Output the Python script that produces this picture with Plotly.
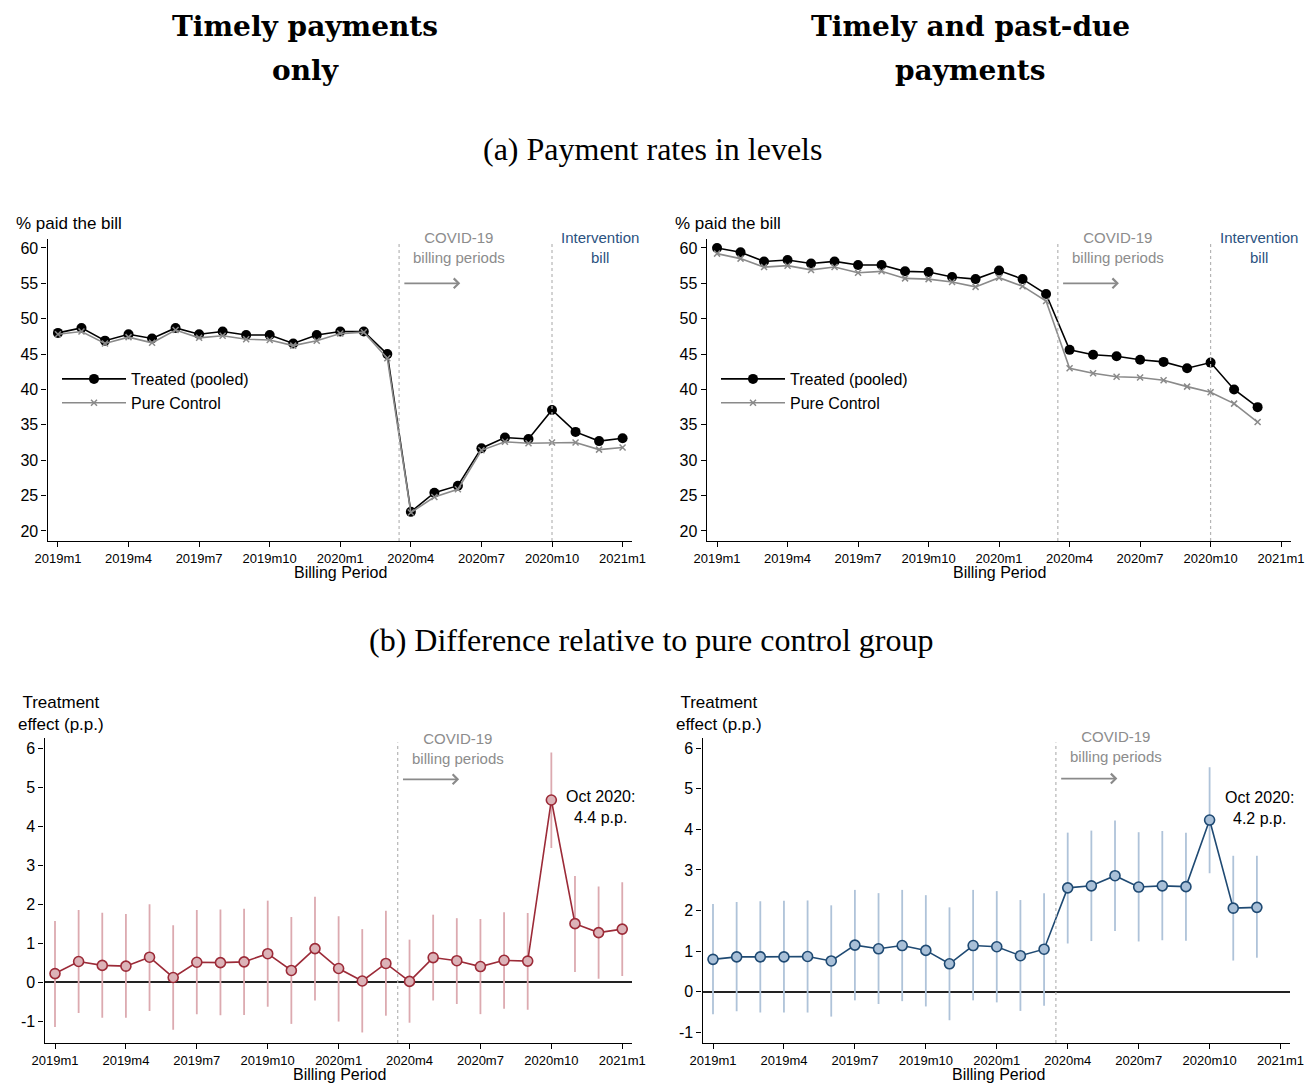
import plotly.graph_objects as go

W, H = 1315, 1084
OFF = 8                      # page body margin of the rendered HTML
FW, FH = W - OFF, H - OFF    # figure size so that it fills the window exactly

periods = ["2019m1", "2019m2", "2019m3", "2019m4", "2019m5", "2019m6", "2019m7", "2019m8",
           "2019m9", "2019m10", "2019m11", "2019m12", "2020m1", "2020m2", "2020m3", "2020m4",
           "2020m5", "2020m6", "2020m7", "2020m8", "2020m9", "2020m10", "2020m11", "2020m12",
           "2021m1"]
tick_labels = ["2019m1", "2019m4", "2019m7", "2019m10", "2020m1", "2020m4", "2020m7",
               "2020m10", "2021m1"]

# (a) levels, timely payments only
timely_treated = [48.0, 48.7, 46.9, 47.8, 47.2, 48.7, 47.8, 48.2, 47.7, 47.7, 46.5, 47.7, 48.2,
                  48.2, 45.0, 22.7, 25.4, 26.4, 31.7, 33.2, 33.0, 37.1, 34.0, 32.7, 33.1]
timely_control = [47.8, 48.2, 46.5, 47.4, 46.6, 48.4, 47.3, 47.6, 47.1, 47.0, 46.2, 46.9, 47.9,
                  48.1, 44.4, 22.6, 24.8, 25.9, 31.4, 32.6, 32.4, 32.5, 32.5, 31.5, 31.8]
# (a) levels, timely and past-due payments
all_treated = [60.0, 59.4, 58.1, 58.3, 57.8, 58.1, 57.6, 57.6, 56.7, 56.6, 55.9, 55.6, 56.8,
               55.6, 53.5, 45.6, 44.9, 44.7, 44.2, 43.9, 43.0, 43.8, 40.0, 37.5]
all_control = [59.2, 58.5, 57.3, 57.5, 56.9, 57.3, 56.5, 56.7, 55.7, 55.6, 55.2, 54.5, 55.8,
               54.6, 52.5, 43.0, 42.3, 41.8, 41.7, 41.3, 40.4, 39.6, 38.0, 35.4]

# (b) treatment effects with confidence intervals
timely_effect = [0.22, 0.53, 0.43, 0.41, 0.64, 0.12, 0.51, 0.50, 0.52, 0.73, 0.30, 0.86, 0.35,
                 0.03, 0.48, 0.02, 0.63, 0.55, 0.40, 0.56, 0.54, 4.67, 1.50, 1.27, 1.36]
timely_ci_hi = [1.57, 1.85, 1.78, 1.75, 2.00, 1.46, 1.85, 1.86, 1.88, 2.09, 1.67, 2.19, 1.69,
                1.36, 1.83, 1.09, 1.73, 1.64, 1.62, 1.79, 1.77, 5.89, 2.72, 2.45, 2.56]
timely_ci_lo = [-1.15, -0.79, -0.91, -0.91, -0.74, -1.22, -0.82, -0.85, -0.84, -0.63, -1.07,
                -0.47, -1.01, -1.29, -0.86, -1.04, -0.47, -0.56, -0.82, -0.68, -0.71, 3.44,
                0.26, 0.09, 0.16]
all_effect = [0.80, 0.86, 0.86, 0.86, 0.87, 0.76, 1.15, 1.06, 1.14, 1.02, 0.69, 1.14, 1.11,
              0.89, 1.05, 2.56, 2.61, 2.86, 2.58, 2.61, 2.59, 4.23, 2.06, 2.08]
all_ci_hi = [2.16, 2.21, 2.23, 2.24, 2.25, 2.13, 2.51, 2.43, 2.51, 2.38, 2.08, 2.51, 2.48,
             2.26, 2.43, 3.92, 3.97, 4.22, 3.93, 3.96, 3.92, 5.53, 3.35, 3.35]
all_ci_lo = [-0.55, -0.48, -0.51, -0.51, -0.51, -0.61, -0.21, -0.30, -0.23, -0.36, -0.70,
             -0.21, -0.26, -0.47, -0.34, 1.19, 1.25, 1.50, 1.24, 1.27, 1.26, 2.92, 0.77, 0.84]

SANS = "Liberation Sans, Arial, sans-serif"
GRAY_TXT = "#8c8c8c"
BLUE_TXT = "#2b527f"
RED_LINE = "#9c2b38"
RED_FILL = "#dcb3b8"
RED_CI = "#dcaab0"
BLUE_LINE = "#1f4a73"
BLUE_FILL = "#a9c0d8"
BLUE_CI = "#afc3d9"

tick_vals = [periods.index(t) for t in tick_labels]
covid_x = periods.index("2020m3") + 0.5
interv_x = periods.index("2020m10")
oct_x = periods.index("2020m10")


def px(x):
    return (x - OFF) / FW


def py(y):
    return 1 - (y - OFF) / FH


fig = go.Figure()

# ---- top panels: levels
for k, (tr, ct, leg) in enumerate([(timely_treated, timely_control, "legend"),
                                    (all_treated, all_control, "legend2")]):
    xa = "x" if k == 0 else "x2"
    ya = "y" if k == 0 else "y2"
    fig.add_trace(go.Scatter(x=list(range(len(tr))), y=tr, mode="lines+markers",
                             name="Treated (pooled)", legend=leg, xaxis=xa, yaxis=ya,
                             line=dict(color="black", width=1.6),
                             marker=dict(symbol="circle", size=10, color="black")))
    fig.add_trace(go.Scatter(x=list(range(len(ct))), y=ct, mode="lines+markers",
                             name="Pure Control", legend=leg, xaxis=xa, yaxis=ya,
                             line=dict(color="#8a8a8a", width=1.6),
                             marker=dict(symbol="x-thin", size=6,
                                         line=dict(color="#8a8a8a", width=1.5))))

# ---- bottom panels: effects
for k, (eff, lo, hi, lc, fc, cc) in enumerate([
        (timely_effect, timely_ci_lo, timely_ci_hi, RED_LINE, RED_FILL, RED_CI),
        (all_effect, all_ci_lo, all_ci_hi, BLUE_LINE, BLUE_FILL, BLUE_CI)]):
    xa = "x3" if k == 0 else "x4"
    ya = "y3" if k == 0 else "y4"
    xs = list(range(len(eff)))
    fig.add_trace(go.Scatter(
        x=xs, y=eff, mode="markers", xaxis=xa, yaxis=ya, showlegend=False,
        marker=dict(size=1, opacity=0),
        error_y=dict(type="data", symmetric=False,
                     array=[h - e for h, e in zip(hi, eff)],
                     arrayminus=[e - l for e, l in zip(eff, lo)],
                     color=cc, thickness=1.8, width=0)))
    fig.add_trace(go.Scatter(
        x=xs, y=eff, mode="lines+markers", xaxis=xa, yaxis=ya, showlegend=False,
        line=dict(color=lc, width=1.6),
        marker=dict(symbol="circle", size=10, color=fc, line=dict(color=lc, width=1.6))))

# ---- axes (positions in reference pixels)
x_dom = {"x": (47.6, 632), "x2": (706.7, 1290.5), "x3": (44.6, 631.7), "x4": (702.6, 1290)}
y_dom = {"y": (239, 541), "y2": (239, 541), "y3": (738, 1043), "y4": (738, 1043)}
y_rng = {"y": (18.58, 61.27), "y2": (18.58, 61.27), "y3": (-1.56, 6.26), "y4": (-1.26, 6.25)}
y_ticks = {"y": list(range(20, 61, 5)), "y2": list(range(20, 61, 5)),
           "y3": list(range(-1, 7)), "y4": list(range(-1, 7))}

layout_axes = {}
for i, (xn, yn) in enumerate([("x", "y"), ("x2", "y2"), ("x3", "y3"), ("x4", "y4")]):
    xkey = "xaxis" if xn == "x" else "xaxis" + xn[1:]
    ykey = "yaxis" if yn == "y" else "yaxis" + yn[1:]
    x0, x1 = x_dom[xn]
    yt, yb = y_dom[yn]
    layout_axes[xkey] = dict(
        domain=[px(x0), px(x1)], anchor=yn, range=[-0.44, 24.4], automargin=False,
        tickmode="array", tickvals=tick_vals, ticktext=tick_labels,
        showline=True, linecolor="black", linewidth=1.3, mirror=False,
        ticks="outside", ticklen=5, tickwidth=1.2, tickcolor="black",
        showgrid=False, zeroline=False,
        tickfont=dict(family=SANS, size=13, color="black"))
    layout_axes[ykey] = dict(
        domain=[py(yb), py(yt)], anchor=xn, range=list(y_rng[yn]), automargin=False,
        tickmode="array", tickvals=y_ticks[yn],
        ticktext=[str(v) for v in y_ticks[yn]],
        showline=True, linecolor="black", linewidth=1.3,
        ticks="outside", ticklen=5, tickwidth=1.2, tickcolor="black",
        showgrid=False,
        zeroline=(i >= 2), zerolinecolor="#222222", zerolinewidth=1.6,
        tickfont=dict(family=SANS, size=16, color="black"))

shapes = []
annotations = []

# vertical dotted reference lines
for xn, yn in [("x", "y"), ("x2", "y2"), ("x3", "y3"), ("x4", "y4")]:
    shapes.append(dict(type="line", xref=xn, yref=yn + " domain", x0=covid_x, x1=covid_x,
                       y0=0, y1=0.985, line=dict(color="#b5b5b5", width=1.2, dash="dot")))
for xn, yn in [("x", "y"), ("x2", "y2")]:
    shapes.append(dict(type="line", xref=xn, yref=yn + " domain", x0=interv_x, x1=interv_x,
                       y0=0, y1=0.985, line=dict(color="#b5b5b5", width=1.2, dash="dot")))

# COVID text + arrow
for xn, yn, ytxt, yarr in [("x", "y", 60.0, 55.0), ("x2", "y2", 60.0, 55.0),
                           ("x3", "y3", 6.0, 5.2), ("x4", "y4", 6.04, 5.25)]:
    annotations.append(dict(xref=xn, yref=yn, x=17.05, y=ytxt, showarrow=False,
                            text="COVID-19<br>billing periods",
                            font=dict(family=SANS, size=15, color=GRAY_TXT)))
    annotations.append(dict(xref=xn, yref=yn, x=17.1, y=yarr, axref=xn, ayref=yn,
                            ax=14.66, ay=yarr, text="", showarrow=True, arrowhead=4,
                            arrowsize=1.2, arrowwidth=1.6, arrowcolor="#8a8a8a"))

for xn, yn in [("x", "y"), ("x2", "y2")]:
    annotations.append(dict(xref=xn, yref=yn, x=23.05, y=60.0, showarrow=False,
                            text="Intervention<br>bill",
                            font=dict(family=SANS, size=15, color=BLUE_TXT)))

# Oct 2020 labels
annotations.append(dict(xref="x3", yref="y3", x=oct_x + 2.1, y=4.5, showarrow=False,
                        text="Oct 2020:<br>4.4 p.p.",
                        font=dict(family=SANS, size=16, color="black")))
annotations.append(dict(xref="x4", yref="y4", x=oct_x + 2.1, y=4.53, showarrow=False,
                        text="Oct 2020:<br>4.2 p.p.",
                        font=dict(family=SANS, size=16, color="black")))

# y-axis titles
for xl in [14, 673]:
    annotations.append(dict(xref="paper", yref="paper", x=px(xl), y=py(223), xanchor="left",
                            yanchor="middle", showarrow=False, text="% paid the bill",
                            font=dict(family=SANS, size=17, color="black")))
for xc in [61, 719]:
    annotations.append(dict(xref="paper", yref="paper", x=px(xc), y=py(713), xanchor="center",
                            yanchor="middle", showarrow=False, text="Treatment<br>effect (p.p.)",
                            font=dict(family=SANS, size=17, color="black")))

# x-axis titles
for xc, yc in [(341, 572), (1000, 572), (339, 1074), (998, 1074)]:
    annotations.append(dict(xref="paper", yref="paper", x=px(xc), y=py(yc), xanchor="center",
                            yanchor="middle", showarrow=False, text="Billing Period",
                            font=dict(family=SANS, size=16, color="black")))

# column titles
SERIF_B = "DejaVu Serif, serif"
for xc, l1, l2 in [(305, "Timely payments", "only"), (970, "Timely and past-due", "payments")]:
    annotations.append(dict(xref="paper", yref="paper", x=px(xc), y=py(OFF + 1),
                            showarrow=False, xanchor="center", yanchor="top",
                            borderpad=0, text="<b>%s</b>" % l1,
                            font=dict(family=SERIF_B, size=28, color="black")))
    annotations.append(dict(xref="paper", yref="paper", x=px(xc), y=py(70), showarrow=False,
                            xanchor="center", yanchor="middle", text="<b>%s</b>" % l2,
                            font=dict(family=SERIF_B, size=28, color="black")))

SERIF = "Liberation Serif, Times New Roman, serif"
annotations.append(dict(xref="paper", yref="paper", x=px(652), y=py(149), showarrow=False,
                        xanchor="center", yanchor="middle", text="(a) Payment rates in levels",
                        font=dict(family=SERIF, size=32, color="black")))
annotations.append(dict(xref="paper", yref="paper", x=px(651), y=py(640), showarrow=False,
                        xanchor="center", yanchor="middle",
                        text="(b) Difference relative to pure control group",
                        font=dict(family=SERIF, size=32, color="black")))

leg_common = dict(bgcolor="rgba(0,0,0,0)", borderwidth=0, itemwidth=64,
                  font=dict(family=SANS, size=16, color="black"),
                  xanchor="left", yanchor="top", tracegroupgap=0)
fig.update_layout(
    width=FW, height=FH, margin=dict(l=0, r=0, t=0, b=0, autoexpand=False),
    paper_bgcolor="white", plot_bgcolor="white",
    showlegend=True,
    legend=dict(x=px(57), y=py(362), **leg_common),
    legend2=dict(x=px(716), y=py(362), **leg_common),
    shapes=shapes, annotations=annotations,
    **layout_axes)

fig.write_html("out.html")
